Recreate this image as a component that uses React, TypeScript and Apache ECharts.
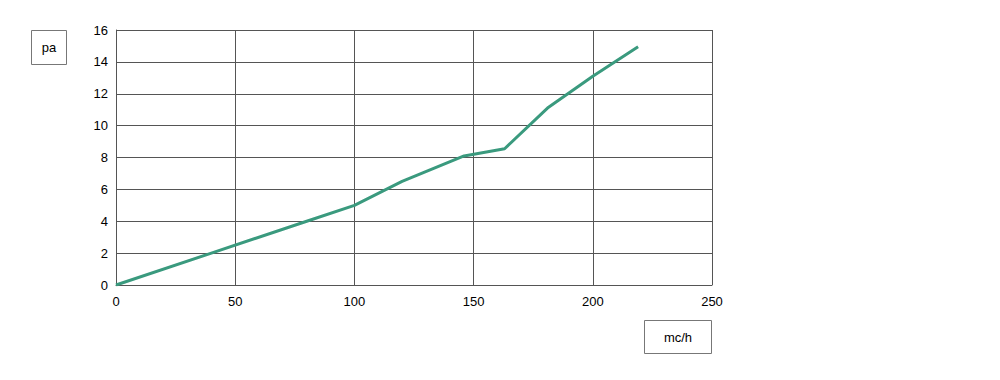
import React, { useEffect, useRef } from "react";
import * as echarts from "echarts";

const flowValues = [0, 40, 80, 100, 120, 146, 163, 181, 200, 219];
const pressureValues = [0, 2, 4, 5, 6.5, 8.1, 8.55, 11.1, 13.1, 14.95];
const yUnit = "pa";
const xUnit = "mc/h";

export default function App() {
  const ref = useRef<HTMLDivElement>(null);
  useEffect(() => {
    document.body.style.margin = "0";
    const chart = echarts.init(ref.current!, null, { renderer: "svg" });
    const font = "Liberation Sans, Arial, sans-serif";
    const gridColor = "#555";
    chart.setOption({
      animation: false,
      backgroundColor: "#fff",
      grid: { left: 116, right: 288, top: 30, bottom: 95, containLabel: false },
      xAxis: {
        type: "value",
        min: 0,
        max: 250,
        interval: 50,
        axisLine: { show: true, lineStyle: { color: gridColor, width: 1 } },
        axisTick: { show: false },
        splitLine: { show: true, lineStyle: { color: gridColor, width: 1 } },
        axisLabel: { color: "#000", fontSize: 13, fontFamily: font, margin: 10, showMaxLabel: true },
      },
      yAxis: {
        type: "value",
        min: 0,
        max: 16,
        interval: 2,
        axisLine: { show: true, lineStyle: { color: gridColor, width: 1 } },
        axisTick: { show: false },
        splitLine: { show: true, lineStyle: { color: gridColor, width: 1 } },
        axisLabel: { color: "#000", fontSize: 13, fontFamily: font, margin: 8 },
      },
      series: [
        {
          type: "line",
          data: flowValues.map((x, i) => [x, pressureValues[i]]),
          showSymbol: false,
          symbol: "none",
          lineStyle: { color: "#3a9a7e", width: 3 },
          itemStyle: { color: "#3a9a7e" },
        },
      ],
      graphic: [
        {
          type: "group",
          left: 31,
          top: 30,
          children: [
            { type: "rect", shape: { x: 0, y: 0, width: 35, height: 34 }, style: { fill: "#fff", stroke: "#777", lineWidth: 1 } },
            { type: "text", x: 17.5, y: 17, style: { text: yUnit, fill: "#000", font: `13px ${font}`, align: "center", verticalAlign: "middle" } },
          ],
        },
        {
          type: "group",
          left: 644,
          top: 320,
          children: [
            { type: "rect", shape: { x: 0, y: 0, width: 67, height: 33 }, style: { fill: "#fff", stroke: "#777", lineWidth: 1 } },
            { type: "text", x: 33.5, y: 16.5, style: { text: xUnit, fill: "#000", font: `13px ${font}`, align: "center", verticalAlign: "middle" } },
          ],
        },
      ],
    });
    return () => chart.dispose();
  }, []);
  return <div ref={ref} style={{ width: 1000, height: 380 }} />;
}
